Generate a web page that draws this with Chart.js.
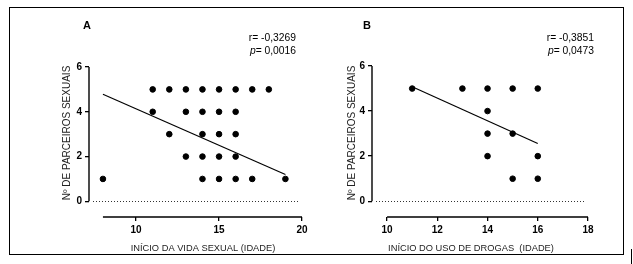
<!DOCTYPE html>
<html>
<head>
<meta charset="utf-8">
<script src="https://cdn.jsdelivr.net/npm/chart.js@4.4.1/dist/chart.umd.min.js"></script>
<style>
  body { margin: 0; background: #fff; }
  #wrap { position: relative; width: 633px; height: 264px; overflow: hidden; }
  #frame { position: absolute; left: 9px; top: 7px; width: 613px; height: 246px; border: 1px solid #000; }
  #mark { position: absolute; left: 631px; top: 249px; width: 1px; height: 15px; background: #000; }
  canvas { position: absolute; top: 0; }
</style>
</head>
<body>
<div id="wrap">
  <div id="frame"></div>
  <div id="mark"></div>
  <canvas id="chartA" width="316" height="264" style="left:0"></canvas>
  <canvas id="chartB" width="317" height="264" style="left:316px"></canvas>
</div>
<script>
// panel A: age at first sexual intercourse vs number of partners
const ageSexA   = [11, 12, 13, 14, 15, 16, 17, 18, 11, 13, 14, 15, 16, 12, 14, 15, 16, 13, 14, 15, 16, 8, 14, 15, 16, 17, 19];
const partnersA = [ 5,  5,  5,  5,  5,  5,  5,  5,  4,  4,  4,  4,  4,  3,  3,  3,  3,  2,  2,  2,  2, 1,  1,  1,  1,  1,  1];
const fitXA = [8, 19];
const fitYA = [4.78, 1.2];
const ticksXA = [10, 15, 20];
const axisXA = [8, 20];

// panel B: age at first drug use vs number of partners
const ageDrugB  = [11, 13, 14, 15, 16, 14, 14, 15, 14, 16, 15, 16];
const partnersB = [ 5,  5,  5,  5,  5,  4,  3,  3,  2,  2,  1,  1];
const fitXB = [11, 16];
const fitYB = [5.08, 2.56];
const ticksXB = [10, 12, 14, 16, 18];
const axisXB = [10, 18];

const ticksY = [0, 2, 4, 6];

const FONT = '"Liberation Sans", Arial, sans-serif';

// axis lines, zero line and the texts
const decor = {
  id: 'decor',
  afterDraw(chart, args, o) {
    const ctx = chart.ctx;
    const xs = chart.scales.x, ys = chart.scales.y;
    const area = chart.chartArea;
    ctx.save();
    ctx.strokeStyle = '#000';
    ctx.lineWidth = 1.4;
    ctx.beginPath();
    ctx.moveTo(area.left, ys.getPixelForValue(6));
    ctx.lineTo(area.left, ys.getPixelForValue(0));
    ctx.moveTo(xs.getPixelForValue(o.axisX[0]), area.bottom);
    ctx.lineTo(xs.getPixelForValue(o.axisX[1]), area.bottom);
    ctx.stroke();

    ctx.lineWidth = 1;
    ctx.strokeStyle = '#333';
    ctx.setLineDash([1, 2]);
    ctx.beginPath();
    const y0 = Math.round(ys.getPixelForValue(0)) + 0.5;
    ctx.moveTo(area.left + 4, y0);
    ctx.lineTo(area.right - 2, y0);
    ctx.stroke();
    ctx.setLineDash([]);

    ctx.fillStyle = '#000';
    ctx.textBaseline = 'middle';
    ctx.font = 'bold 11px ' + FONT;
    ctx.textAlign = 'left';
    ctx.fillText(o.label, o.labelX, 26);

    ctx.font = '10.3px ' + FONT;
    ctx.textAlign = 'right';
    ctx.fillText(o.r, o.textRight, 38);
    const rest = '= ' + o.p;
    ctx.fillText(rest, o.textRight, 51);
    const w = ctx.measureText(rest).width;
    ctx.font = 'italic 10.3px ' + FONT;
    ctx.fillText('p', o.textRight - w, 51);

    ctx.fillStyle = '#222';
    ctx.font = '9.3px ' + FONT;
    ctx.textAlign = 'center';
    ctx.fillText(o.xTitle, o.xTitleX, 248);

    ctx.font = '10px ' + FONT;
    ctx.translate(o.yTitleX, 133);
    ctx.rotate(-Math.PI / 2);
    ctx.fillText('Nº DE PARCEIROS SEXUAIS', 0, 0);
    ctx.restore();
  }
};

function makePanel(id, xs, ys, fitX, fitY, p) {
  return new Chart(document.getElementById(id), {
    type: 'scatter',
    data: {
      datasets: [{
        data: xs.map((x, i) => ({ x: x, y: ys[i] })),
        backgroundColor: '#000',
        borderColor: '#000',
        pointRadius: 2.8,
        pointHoverRadius: 2.8
      }, {
        type: 'line',
        data: fitX.map((x, i) => ({ x: x, y: fitY[i] })),
        borderColor: '#000',
        borderWidth: 1.2,
        pointRadius: 0,
        fill: false
      }]
    },
    options: {
      responsive: false,
      animation: false,
      events: [],
      layout: { padding: { left: 0, top: p.top, right: p.right, bottom: 0 } },
      plugins: {
        legend: { display: false },
        tooltip: { enabled: false },
        decor: p
      },
      scales: {
        x: {
          type: 'linear',
          min: p.xMin,
          max: p.xMax,
          afterBuildTicks: s => { s.ticks = p.ticksX.map(v => ({ value: v })); },
          afterFit: s => { s.height = 47; },
          border: { display: false },
          grid: { drawOnChartArea: false, tickLength: 4, color: '#000', lineWidth: 1.3 },
          ticks: { color: '#000', padding: 3, maxRotation: 0, font: { family: FONT, size: 10, weight: 'bold' } }
        },
        y: {
          min: -0.7,
          max: 6,
          afterBuildTicks: s => { s.ticks = ticksY.map(v => ({ value: v })); },
          afterFit: s => { s.width = p.yWidth; },
          border: { display: false },
          grid: { drawOnChartArea: false, tickLength: 4, color: '#000', lineWidth: 1.3 },
          ticks: { color: '#000', padding: 3, font: { family: FONT, size: 10, weight: 'bold' } }
        }
      }
    },
    plugins: [decor]
  });
}

makePanel('chartA', ageSexA, partnersA, fitXA, fitYA, {
  top: 67, right: 14, yWidth: 89, xMin: 7.16, xMax: 20,
  ticksX: ticksXA, axisX: axisXA,
  label: 'A', labelX: 83, r: 'r= -0,3269', p: '0,0016', textRight: 296,
  xTitle: 'INÍCIO DA VIDA SEXUAL (IDADE)', xTitleX: 203, yTitleX: 67
});

makePanel('chartB', ageDrugB, partnersB, fitXB, fitYB, {
  top: 66, right: 45, yWidth: 56, xMin: 9.4, xMax: 18,
  ticksX: ticksXB, axisX: axisXB,
  label: 'B', labelX: 47, r: 'r= -0,3851', p: '0,0473', textRight: 278,
  xTitle: 'INÍCIO DO USO DE DROGAS  (IDADE)', xTitleX: 155, yTitleX: 36
});
</script>
</body>
</html>
